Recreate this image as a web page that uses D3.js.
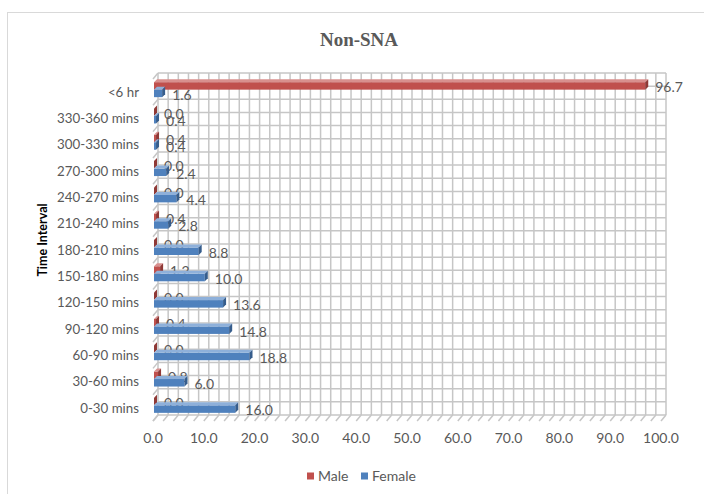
<!DOCTYPE html>
<html>
<head>
<meta charset="utf-8">
<script src="https://cdn.jsdelivr.net/npm/d3@7/dist/d3.min.js"></script>
<style>
  body { margin: 0; background: #fff; }
  text { font-family: Lato, "Open Sans", sans-serif; }
</style>
</head>
<body>
<div id="chart"></div>
<script>
// categories top to bottom, as drawn
const categories = ["<6 hr", "330-360 mins", "300-330 mins", "270-300 mins", "240-270 mins",
  "210-240 mins", "180-210 mins", "150-180 mins", "120-150 mins", "90-120 mins",
  "60-90 mins", "30-60 mins", "0-30 mins"];
const maleValues = [96.7, 0.0, 0.4, 0.0, 0.0, 0.4, 0.0, 1.2, 0.0, 0.4, 0.0, 0.8, 0.0];
const femaleValues = [1.6, 0.4, 0.4, 2.4, 4.4, 2.8, 8.8, 10.0, 13.6, 14.8, 18.8, 6.0, 16.0];
const xTicks = d3.range(0, 101, 10);
const seriesNames = ["Male", "Female"];

const colors = {
  Male: { front: "#c0504d", top: "#d8908e", end: "#8f3936" },
  Female: { front: "#4f81bd", top: "#8eb0da", end: "#365d8c" }
};

const W = 704, H = 494;
const svg = d3.select("#chart").append("svg")
  .attr("width", W).attr("height", H);

// chart border
svg.append("rect")
  .attr("x", 7.5).attr("y", 12.5)
  .attr("width", 700).attr("height", 490)
  .attr("fill", "#fff").attr("stroke", "#d9d9d9");

// title
svg.append("text")
  .attr("x", 359).attr("y", 46)
  .attr("text-anchor", "middle")
  .style("font-family", "'Liberation Serif', 'DejaVu Serif', serif")
  .style("font-weight", "bold")
  .style("font-size", "19px")
  .attr("fill", "#595959")
  .text("Non-SNA");

// scales
const x = d3.scaleLinear().domain([0, 100]).range([154, 662]);
const y0 = d3.scaleBand().domain(categories).range([79, 421]);
const bw = y0.bandwidth();
const y1 = d3.scaleBand().domain(seriesNames).range([bw * 0.12, bw * 0.69]);

// 3D offsets
const wallDx = 4, wallDy = -6;   // back wall shift
const barDx = 3, barDy = -3;     // bar depth

const grid = svg.append("g").attr("stroke", "#c6c6c6").attr("stroke-width", 1.5).attr("fill", "none");
const wallTop = y0.range()[0] + wallDy, wallBottom = y0.range()[1] + wallDy;

// vertical gridlines every 2 units on the back wall
const vLines = d3.range(0, 101, 2);
grid.selectAll("line.v").data(vLines).join("line")
  .attr("class", "v")
  .attr("x1", d => x(d) + wallDx).attr("x2", d => x(d) + wallDx)
  .attr("y1", wallTop).attr("y2", wallBottom);

// horizontal gridlines every half category
const hLines = d3.range(0, categories.length * 2 + 1);
grid.selectAll("line.h").data(hLines).join("line")
  .attr("class", "h")
  .attr("x1", x(0) + wallDx).attr("x2", x(100) + wallDx)
  .attr("y1", d => wallTop + d * bw / 2).attr("y2", d => wallTop + d * bw / 2);

// floor hatches
grid.selectAll("line.f").data(vLines).join("line")
  .attr("class", "f")
  .attr("x1", d => x(d) + wallDx).attr("y1", wallBottom)
  .attr("x2", d => x(d) + wallDx - 5).attr("y2", wallBottom + 6);

// left wall hatches at category boundaries
grid.selectAll("line.l").data(d3.range(0, categories.length + 1)).join("line")
  .attr("class", "l")
  .attr("x1", x(0) + wallDx).attr("y1", d => wallTop + d * bw)
  .attr("x2", x(0) + wallDx - 5).attr("y2", d => wallTop + d * bw + 6);

// bars
const rows = categories.map((c, i) => ({ cat: c, Male: maleValues[i], Female: femaleValues[i] }));
const barH = y1.bandwidth();

const groups = svg.append("g").selectAll("g")
  .data(rows).join("g")
  .attr("transform", d => `translate(0,${y0(d.cat)})`);

seriesNames.forEach(s => {
  groups.each(function (d) {
    const g = d3.select(this);
    const x0 = x(0), xv = x(d[s]), yt = y1(s), yb = yt + barH;
    const c = colors[s];
    g.append("rect")
      .attr("x", x0).attr("y", yt)
      .attr("width", xv - x0).attr("height", barH)
      .attr("fill", c.front);
    g.append("polygon")
      .attr("points", [[x0, yt], [x0 + barDx, yt + barDy], [xv + barDx, yt + barDy], [xv, yt]].join(" "))
      .attr("fill", c.top);
    g.append("polygon")
      .attr("points", [[xv, yt], [xv + barDx, yt + barDy], [xv + barDx, yb + barDy], [xv, yb]].join(" "))
      .attr("fill", c.end);
    g.append("text")
      .attr("x", xv + barDx + 7)
      .attr("y", yt + barH / 2 + 1.5)
      .attr("dy", "0.35em")
      .style("font-size", "14px")
      .attr("fill", "#595959")
      .text(d3.format(".1f")(d[s]));
  });
});

// category axis labels
svg.append("g").selectAll("text")
  .data(categories).join("text")
  .attr("x", 139)
  .attr("y", d => y0(d) + bw / 2)
  .attr("dy", "0.35em")
  .attr("text-anchor", "end")
  .style("font-size", "13.3px")
  .attr("fill", "#595959")
  .text(d => d);

// value axis labels
svg.append("g").selectAll("text")
  .data(xTicks).join("text")
  .attr("x", d => x(d) - 1)
  .attr("y", 438)
  .attr("dy", "0.35em")
  .attr("text-anchor", "middle")
  .style("font-size", "14px")
  .attr("fill", "#595959")
  .text(d => d3.format(".1f")(d));

// axis title
svg.append("text")
  .attr("transform", "translate(43,240) rotate(-90)")
  .attr("text-anchor", "middle")
  .attr("dy", "0.35em")
  .style("font-size", "12.5px")
  .style("font-weight", "bold")
  .attr("fill", "#000")
  .text("Time Interval");

// legend
const legendX = { Male: 307, Female: 361 };
const legend = svg.append("g").selectAll("g")
  .data(seriesNames).join("g")
  .attr("transform", d => `translate(${legendX[d]},476)`);
legend.append("rect")
  .attr("x", 0).attr("y", -3.5).attr("width", 7).attr("height", 7)
  .attr("fill", d => colors[d].front);
legend.append("text")
  .attr("x", 11).attr("dy", "0.35em")
  .style("font-size", "14px")
  .attr("fill", "#595959")
  .text(d => d);
</script>
</body>
</html>
